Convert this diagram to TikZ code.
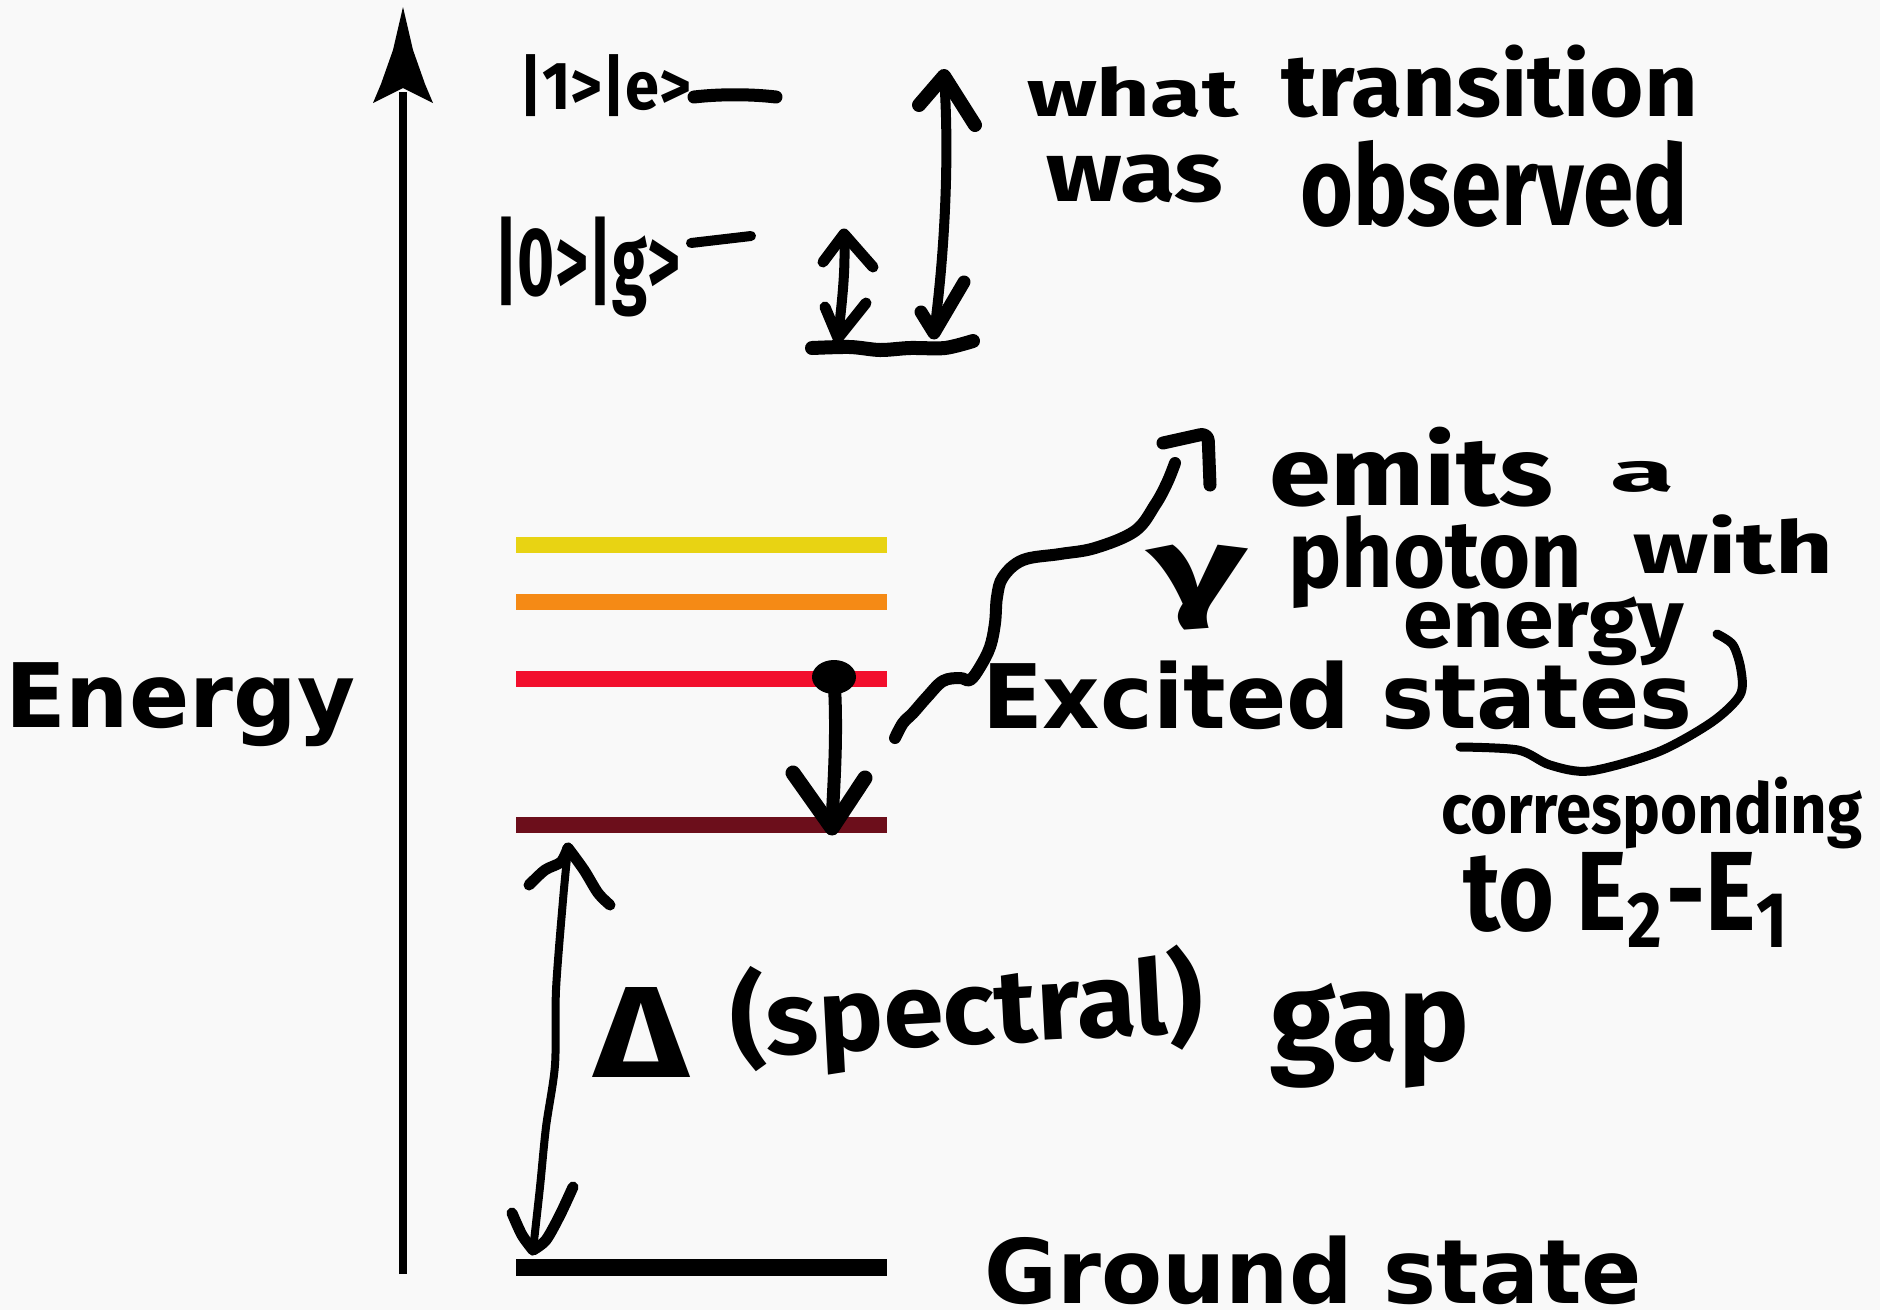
\documentclass[tikz,border=0pt]{standalone}
\usepackage{fontspec}
\usepackage{graphicx}
\setmainfont{DejaVu Sans}
\newfontfamily\handfont{Fira Sans}
\usetikzlibrary{shapes.geometric}
\definecolor{bgc}{HTML}{F9F9F9}
\definecolor{lvY}{HTML}{E8D313}
\definecolor{lvO}{HTML}{F58A15}
\definecolor{lvR}{HTML}{F20F2D}
\definecolor{lvD}{HTML}{6C0E1B}
\newcommand{\hwbox}[3]{\resizebox*{#1pt}{#2pt}{\handfont\bfseries #3}}
\tikzset{
  lvl/.style={line width=16pt},
  pen/.style={line width=12pt, line cap=round, line join=round},
  hw/.style={anchor=north west, inner sep=0pt, outer sep=0pt},
  bigtext/.style={anchor=base west, inner sep=0pt, font=\bfseries\fontsize{89}{100}\selectfont},
}
\begin{document}
\begin{tikzpicture}[x=1pt,y=-1pt]
\useasboundingbox (0,0) rectangle (1880,1310);
\fill[bgc] (0,0) rectangle (1880,1310);

% energy axis
\coordinate (axbot) at (403,1274);
\coordinate (axtop) at (403,7);
\draw[line width=8pt] (axbot) -- (403,92);
\fill (axtop) -- (413,50) -- (425,84) -- (433,103) -- (403,88) -- (373,103) -- (381,84) -- (393,50) -- cycle;

% levels
\draw[lvl, lvY] (516,545) -- (887,545);
\draw[lvl, lvO] (516,601.5) -- (887,601.5);
\draw[lvl, lvR] (516,679) -- (887,679);
\draw[lvl, lvD] (516,825) -- (887,825);
\draw[line width=17pt] (516,1267) -- (887,1267);

% printed labels
\node[bigtext] (energy) at (5,727) {Energy};
\node[bigtext] (excited) at (982,728) {Excited states};
\node[bigtext] (ground) at (984,1303) {Ground state};

% handwritten labels
\node[hw] (ket1e) at (519,55) {\hwbox{172}{62}{|1>|e>}};
\node[hw] (ket0g) at (494,217) {\hwbox{186}{100}{|0>|g>}};
\node[hw] (what) at (1027,67) {\hwbox{211}{51}{what}};
\node[hw] (transition) at (1281,45) {\hwbox{417}{73}{transition}};
\node[hw] (was) at (1046,155) {\hwbox{177}{48}{was}};
\node[hw] (observed) at (1300,140) {\hwbox{388}{87}{observed}};
\node[hw] (emits) at (1269,427) {\hwbox{284}{80}{emits}};
\node[hw] (a) at (1610,461) {\hwbox{64}{31}{a}};
\node[hw] (gamma) at (1148,545) {\hwbox{99}{85}{γ}};
\node[hw] (photon) at (1288,516) {\hwbox{294}{93}{photon}};
\node[hw] (with) at (1633,515) {\hwbox{200}{60}{with}};
\node[hw] (energyhw) at (1403,597) {\hwbox{281}{69}{energy}};
\node[hw] (corr) at (1441,777) {\hwbox{421}{72}{corresponding}};
\node[hw] (toE) at (1463,852) {\hwbox{329}{95}{to E\textsubscript{2}-E\textsubscript{1}}};
\node[hw] (delta) at (594,987) {\hwbox{94}{90}{Δ}};
\node[hw, rotate=3] (spectral) at (728,968) {\hwbox{472}{112}{(spectral)}};
\node[hw] (gap) at (1270,983) {\hwbox{199}{105}{gap}};

% dashes after kets
\draw[pen, line width=13pt] (694,97) .. controls (720,94) and (750,94) .. (776,97);
\draw[pen, line width=10pt] (691,243) -- (751,236);

% short double arrow
\coordinate (satop) at (844,234);
\coordinate (sabot) at (838,338);
\draw[pen, line width=10pt] (satop) .. controls (846,270) and (842,300) .. (sabot);
\draw[pen, line width=11pt] (823,262) -- (satop) -- (873,267);
\draw[pen, line width=11pt] (825,307) -- (sabot) -- (866,303);

% long double arrow
\coordinate (latop) at (944,76);
\coordinate (labot) at (934,333);
\draw[pen, line width=10pt] (latop) .. controls (950,160) and (944,260) .. (labot);
\draw[pen, line width=14pt] (919,105) -- (latop) -- (975,125);
\draw[pen, line width=13pt] (921,312) -- (labot) -- (964,282);

% base line under arrows
\draw[pen, line width=14pt] plot[smooth] coordinates {(812,348) (850,347) (880,350) (910,348) (945,348) (973,341)};

% electron and decay arrow
\node[ellipse, fill=black, inner sep=0pt, minimum width=44pt, minimum height=34pt] (electron) at (834,677) {};
\coordinate (elend) at (832,828);
\draw[pen, line width=13pt] (electron.center) .. controls (838,740) and (833,790) .. (elend);
\draw[pen, line width=15pt] (793,773) -- (elend) -- (865,778);

% photon wave
\coordinate (wavestart) at (895,738);
\coordinate (waveend) at (1175,463);
\draw[pen, line width=12pt] plot[smooth, tension=0.6] coordinates {(wavestart) (903,723) (913,713) (927,697) (943,681) (960,678) (970,680) (980,667) (990,647) (995,623) (997,597) (1003,577) (1023,560) (1060,554) (1095,548) (1135,531) (1155,505) (1167,483) (waveend)};
\draw[pen, line width=13pt, rounded corners=8pt] (1163,443) -- (1208,433) -- (1210,485);

% curve around "states"
\draw[pen, line width=9pt] plot[smooth] coordinates {(1717,634) (1733,645) (1741,670) (1740,695) (1712,722) (1658,752) (1590,771) (1550,765) (1518,750) (1460,747)};

% gap arrow
\coordinate (gaptop) at (568,848);
\coordinate (gapbot) at (533,1250);
\draw[pen, line width=8pt] plot[smooth] coordinates {(gaptop) (563,900) (556,990) (555,1065) (546,1127) (540,1187) (gapbot)};
\draw[pen, line width=11pt] plot[smooth] coordinates {(529,885) (545,870) (561,862) (gaptop)};
\draw[pen, line width=11pt] plot[smooth] coordinates {(gaptop) (584,870) (598,893) (610,905)};
\draw[pen, line width=11pt] plot[smooth] coordinates {(512,1213) (522,1235) (gapbot)};
\draw[pen, line width=11pt] plot[smooth] coordinates {(573,1187) (560,1215) (546,1240) (gapbot)};
\end{tikzpicture}
\end{document}
